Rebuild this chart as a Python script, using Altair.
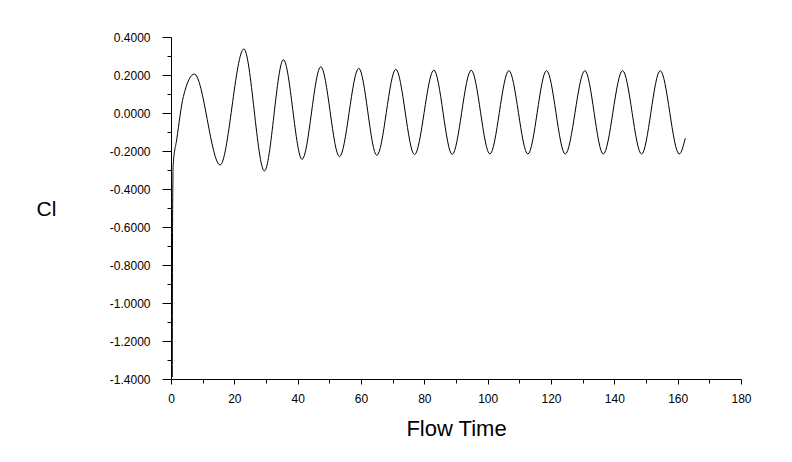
import altair as alt
import pandas as pd

# Flow time and lift coefficient (start transient + extrema)
flow_time = [0.4, 0.5, 0.7, 1.8, 3.9, 7.4, 15.5, 23.0, 29.5, 35.5, 41.4, 47.3, 53.2, 59.3, 65.0,
             71.0, 76.9, 83.0, 88.8, 94.8, 100.7, 106.7, 112.7, 118.6, 124.5, 130.7,
             136.5, 142.6, 148.6, 154.5, 160.5, 162.4]
cl_values = [-1.39, -0.58, -0.27, -0.14, 0.086, 0.205, -0.274, 0.337, -0.305, 0.280, -0.244, 0.244,
             -0.230, 0.235, -0.223, 0.230, -0.219, 0.226, -0.218, 0.225, -0.216, 0.223,
             -0.216, 0.223, -0.216, 0.223, -0.216, 0.223, -0.216, 0.223, -0.216, -0.133]

x_ticks = [0, 10, 20, 30, 40, 50, 60, 70, 80, 90, 100, 110, 120, 130, 140, 150, 160, 170, 180]
y_ticks = [-1.4, -1.3, -1.2, -1.1, -1.0, -0.9, -0.8, -0.7, -0.6, -0.5, -0.4, -0.3,
           -0.2, -0.1, 0.0, 0.1, 0.2, 0.3, 0.4]

df = pd.DataFrame({"t": flow_time, "cl": cl_values})

FONT = "Liberation Sans"

x_axis = alt.Axis(
    values=x_ticks,
    labelExpr="round(datum.value) % 20 == 0 ? datum.label : ''",
    format="d",
    tickSize={"condition": {"test": "round(datum.value) % 20 == 0", "value": 5}, "value": 4},
    labelPadding=9,
    labelFontSize=12,
    labelFont=FONT,
    labelColor="black",
    domainColor="black",
    tickColor="black",
    grid=False,
    title="Flow Time",
    titleFont=FONT,
    titleFontSize=22,
    titleFontWeight="normal",
    titleColor="black",
    titleBaseline="middle",
    titleY=49,
    labelFlush=False,
    labelOverlap=False,
)

y_axis = alt.Axis(
    values=y_ticks,
    labelExpr="abs(round(datum.value*10)) % 2 == 0 ? replace(format(datum.value, '.4f'), '\u2212', '-') : ''",
    tickSize={"condition": {"test": "abs(round(datum.value*10)) % 2 == 0", "value": 9}, "value": 4},
    labelPadding=12,
    labelFontSize=12,
    labelFont=FONT,
    labelColor="black",
    domainColor="black",
    tickColor="black",
    grid=False,
    title="Cl",
    titleFont=FONT,
    titleFontSize=21,
    titleFontWeight="normal",
    titleColor="black",
    titleAngle=0,
    titleAlign="center",
    titleBaseline="middle",
    titleX=-125,
    titleY=172,
    labelFlush=False,
    labelOverlap=False,
)

chart = alt.Chart(df).mark_line(color="black", strokeWidth=1, interpolate="monotone", clip=True).encode(
    x=alt.X("t:Q", scale=alt.Scale(domain=[0, 180], nice=False, zero=False), axis=x_axis),
    y=alt.Y("cl:Q", scale=alt.Scale(domain=[-1.4, 0.4], nice=False, zero=False), axis=y_axis),
).properties(
    width=570,
    height=342,
    autosize=alt.AutoSizeParams(type="none"),
    padding={"left": 163, "top": 29, "right": 43, "bottom": 75},
    background="white",
).configure_view(stroke="transparent")

chart.save("out.html", embed_options={"renderer": "svg", "actions": False})
